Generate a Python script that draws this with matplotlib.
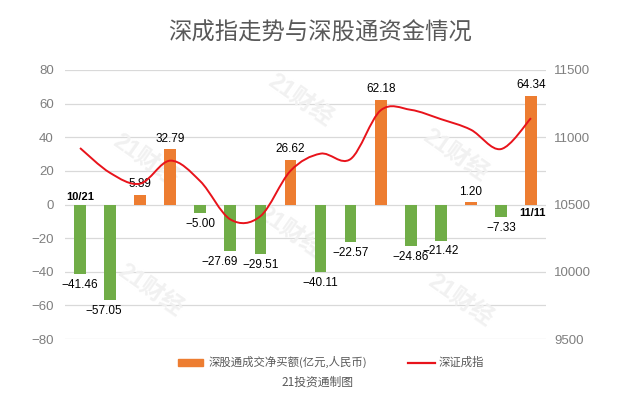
import numpy as np
import matplotlib
matplotlib.use("Agg")
import matplotlib.pyplot as plt
from matplotlib.path import Path
from matplotlib.patches import PathPatch

plt.rcParams['font.family'] = ['Liberation Sans', 'Noto Sans CJK SC', 'DejaVu Sans']
plt.rcParams['axes.unicode_minus'] = True

# data
dates = ['10/21', '10/22', '10/23', '10/24', '10/25', '10/28', '10/29', '10/30',
         '10/31', '11/01', '11/04', '11/05', '11/06', '11/07', '11/08', '11/11']
net_buy = [-41.46, -57.05, 5.89, 32.79, -5.00, -27.69, -29.51, 26.62,
           -40.11, -22.57, 62.18, -24.86, -21.42, 1.20, -7.33, 64.34]
szci = [10920, 10735, 10655, 10826, 10673, 10389, 10413, 10750,
        10878, 10838, 11200, 11204, 11135, 11056, 10912, 11142]

left_ticks = [-80, -60, -40, -20, 0, 20, 40, 60, 80]
right_ticks = [9500, 10000, 10500, 11000, 11500]

orange = '#ED7D31'
green = '#70AD47'
grey_txt = '#7F7F7F'
red = '#E8131B'

W, H = 618, 397
fig = plt.figure(figsize=(W / 100, H / 100), dpi=100)
ax = fig.add_axes([65 / W, 1 - 339 / H, 481 / W, 269 / H])
ax2 = ax.twinx()

x = np.arange(len(dates))
colors = [orange if v >= 0 else green for v in net_buy]
ax.bar(x, net_buy, width=0.39, color=colors, zorder=2)

ax.set_xlim(-0.5, len(dates) - 0.5)
ax.set_ylim(-80, 80)
ax.set_yticks(left_ticks)
ax.set_xticks([])
ax.grid(axis='y', color='#D9D9D9', linewidth=0.9, zorder=0)
ax.set_axisbelow(True)
for s in ax.spines.values():
    s.set_visible(False)
ax.tick_params(axis='y', length=0, pad=8, labelsize=9.5, labelcolor=grey_txt)

ax2.set_ylim(9500, 11500)
ax2.set_yticks(right_ticks)
for s in ax2.spines.values():
    s.set_visible(False)
ax2.tick_params(axis='y', length=0, pad=6, labelsize=9.5, labelcolor=grey_txt)

# smooth line (Catmull-Rom -> cubic bezier)
pts = np.column_stack([x, szci]).astype(float)
verts = [pts[0]]
codes = [Path.MOVETO]
n = len(pts)
for i in range(n - 1):
    p0 = pts[max(i - 1, 0)]
    p1 = pts[i]
    p2 = pts[i + 1]
    p3 = pts[min(i + 2, n - 1)]
    verts += [p1 + (p2 - p0) / 6, p2 - (p3 - p1) / 6, p2]
    codes += [Path.CURVE4] * 3
ax2.add_patch(PathPatch(Path(verts, codes), facecolor='none', edgecolor=red,
                        linewidth=1.4, zorder=3))

# value labels
shift = {1: -6, 5: -11}
for i, v in enumerate(net_buy):
    txt = f'{v:.2f}'.replace('-', '\u2212')
    dx = shift.get(i, 0) * 0.72
    if v >= 0:
        ax.annotate(txt, (i, v), xytext=(dx, 3.5), textcoords='offset points',
                    ha='center', va='bottom', fontsize=8.5, color='black', zorder=4)
    else:
        ax.annotate(txt, (i, v), xytext=(dx, -3.5), textcoords='offset points',
                    ha='center', va='top', fontsize=8.5, color='black', zorder=4)

ax.annotate(dates[0], (0, 0), xytext=(0, 1.5), textcoords='offset points',
            ha='center', va='bottom', fontsize=8, fontweight='bold', zorder=4)
ax.annotate(dates[-1], (len(dates) - 1, 0), xytext=(1, -2.5), textcoords='offset points',
            ha='center', va='top', fontsize=8, fontweight='bold', zorder=4)

# watermark, behind the bars
for wx, wy in [(300, 100), (145, 160), (455, 155), (290, 232), (150, 290), (460, 300)]:
    ax.text(wx / W, 1 - wy / H, '21财经', fontsize=17, fontweight='bold', color='#F1F1F1',
            rotation=-35, ha='center', va='center', zorder=1, transform=fig.transFigure,
            family=['Liberation Sans', 'Noto Sans CJK SC'])

fig.text(320 / W, 1 - 33 / H, '深成指走势与深股通资金情况', fontsize=16.8, color='#595959',
         ha='center', va='center', family=['Noto Sans CJK SC'])

# legend
fig.patches.append(plt.Rectangle((178 / W, 1 - 365.5 / H), 25 / W, 7 / H,
                                 transform=fig.transFigure, color=orange))
fig.text(209 / W, 1 - 362 / H, '深股通成交净买额(亿元,人民币)', fontsize=8.2, color='#595959',
         ha='left', va='center', family=['Noto Sans CJK SC'])
fig.lines.append(plt.Line2D([408 / W, 435 / W], [1 - 363 / H, 1 - 363 / H],
                            transform=fig.transFigure, color=red, linewidth=1.6))
fig.text(439 / W, 1 - 362 / H, '深证成指', fontsize=8.2, color='#595959',
         ha='left', va='center', family=['Noto Sans CJK SC'])
fig.text(317 / W, 1 - 382 / H, '21投资通制图', fontsize=8.5, color='#595959',
         ha='center', va='center', family=['Noto Sans CJK SC'])

fig.savefig('out.png', dpi=100)
